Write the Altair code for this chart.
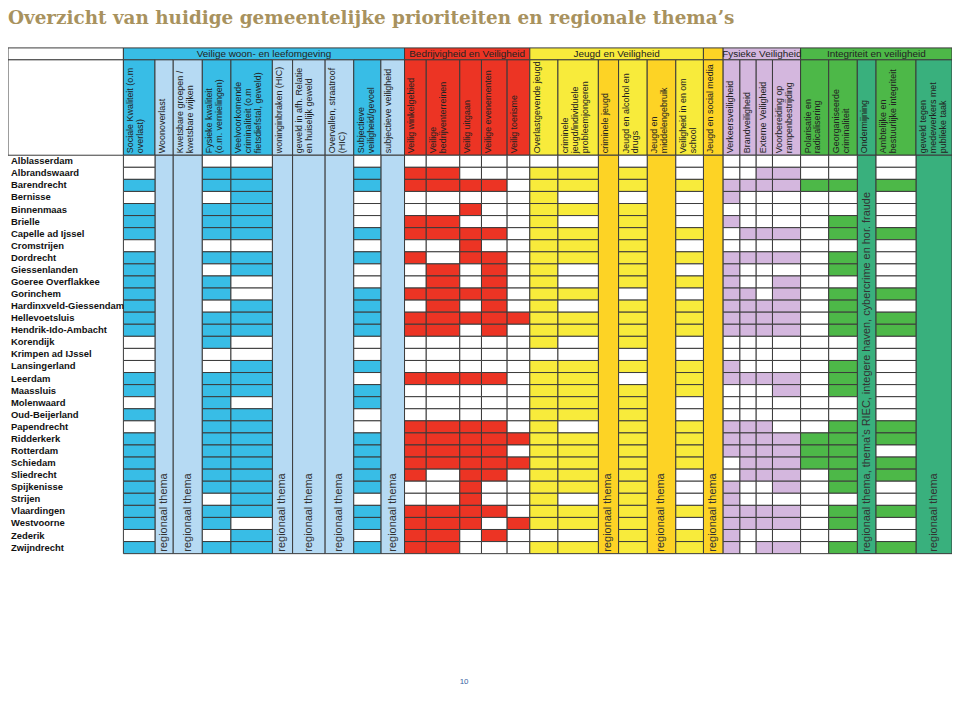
import altair as alt
import pandas as pd

# ---------------- data ----------------
TITLE = "Overzicht van huidige gemeentelijke prioriteiten en regionale thema’s"
PAGE_NUMBER = "10"

gemeenten = [
    "Alblasserdam", "Albrandswaard", "Barendrecht", "Bernisse", "Binnenmaas",
    "Brielle", "Capelle ad Ijssel", "Cromstrijen", "Dordrecht", "Giessenlanden",
    "Goeree Overflakkee", "Gorinchem", "Hardinxveld-Giessendam", "Hellevoetsluis",
    "Hendrik-Ido-Ambacht", "Korendijk", "Krimpen ad IJssel", "Lansingerland",
    "Leerdam", "Maassluis", "Molenwaard", "Oud-Beijerland", "Papendrecht",
    "Ridderkerk", "Rotterdam", "Schiedam", "Sliedrecht", "Spijkenisse", "Strijen",
    "Vlaardingen", "Westvoorne", "Zederik", "Zwijndrecht",
]

group_names = ["Veilige woon- en leefomgeving", "Bedrijvigheid en Veiligheid",
               "Jeugd en Veiligheid", "", "Fysieke Veiligheid",
               "Integriteit en veiligheid"]
group_first_col = [0, 10, 15, 21, 22, 26]
group_last_col = [9, 14, 20, 21, 25, 30]
group_kind = ["blue", "red", "yellow", "darkyellow", "purple", "green"]

column_labels = [
    "Sociale Kwaliteit (o.m\noverlast)",
    "Woonoverlast",
    "Kwetsbare groepen /\nkwetsbare wijken",
    "Fysieke kwaliteit\n(o.m. vernielingen)",
    "Veelvoorkomende\ncriminaliteit (o.m\nfietsdiefstal, geweld)",
    "woninginbraken (HIC)",
    "geweld in afh. Relatie\nen huiselijk geweld",
    "Overvallen, straatroof\n(HIC)",
    "Subjectieve\nveiligheid/gevoel",
    "subjectieve veiligheid",
    "Veilig winkelgebied",
    "Veilige\nbedrijventerreinen",
    "Veilig uitgaan",
    "Veilige evenementen",
    "Veilig toerisme",
    "Overlastgevende jeugd",
    "criminele\njeugd/individuele\nprobleemjongeren",
    "criminele jeugd",
    "Jeugd en alcohol en\ndrugs",
    "Jeugd en\nmiddelengebruik",
    "Veiligheid in en om\nschool",
    "Jeugd en social media",
    "Verkeersveiligheid",
    "Brandveiligheid",
    "Externe Veiligheid",
    "Voorbereiding op\nrampenbestrijding",
    "Polarisatie en\nradicalisering",
    "Georganiseerde\ncriminaliteit",
    "Ondermijning",
    "Ambtelijke en\nbestuurlijke integriteit",
    "geweld tegen\nmedewerkers met\npublieke taak",
]

# colour kind of every column (data columns: cell colour; regional: full column)
column_kind = [
    "blue", "lightblue", "lightblue", "blue", "blue", "lightblue", "lightblue",
    "lightblue", "blue", "lightblue",
    "red", "red", "red", "red", "red",
    "yellow", "yellow", "darkyellow", "yellow", "darkyellow", "yellow", "darkyellow",
    "purple", "purple", "purple", "purple",
    "green", "green", "teal", "green", "teal",
]

REG = "regionaal thema"
REG_RIEC = "regionaal thema, thema's RIEC, integere haven, cybercrime en hor. fraude"

# 1 = gemeentelijke prioriteit (coloured cell), 0 = empty
sociale_kwaliteit = [0,0,1,0,1,1,1,0,1,1, 1,1,1,1,1,0,0,0,1,1, 0,1,0,1,1,1,1,1,1,1, 1,0,1]
fysieke_kwaliteit = [0,1,1,0,1,1,1,0,1,0, 1,1,0,1,1,1,0,0,1,1, 1,1,1,1,1,1,1,1,0,1, 1,0,1]
veelvoorkomende_criminaliteit = [0,1,1,1,1,1,1,0,1,1, 0,0,1,1,1,0,0,1,1,1, 0,1,1,1,1,1,1,1,1,1, 0,1,1]
subjectieve_veiligheid = [0,1,1,0,0,0,1,0,1,0, 0,1,1,1,1,0,0,1,0,1, 1,0,0,1,1,1,1,1,0,1, 1,0,1]
veilig_winkelgebied = [0,1,1,0,0,1,1,0,1,0, 0,1,0,1,1,0,0,0,1,0, 0,0,1,1,1,1,1,0,0,1, 1,1,1]
veilige_bedrijventerreinen = [0,1,1,0,0,1,1,0,0,1, 1,1,1,1,1,0,0,0,1,0, 0,0,1,1,1,1,0,0,0,1, 1,1,1]
veilig_uitgaan = [0,0,1,0,1,0,1,1,1,0, 0,1,0,1,0,0,0,0,1,0, 0,0,1,1,1,1,1,1,1,1, 1,0,0]
veilige_evenementen = [0,0,1,0,0,0,1,0,1,1, 1,1,1,1,1,0,0,0,1,0, 0,0,1,1,1,1,1,0,0,1, 0,1,0]
veilig_toerisme = [0,0,0,0,0,0,0,0,0,0, 0,0,0,1,0,0,0,0,0,0, 0,0,0,1,0,1,0,0,0,0, 1,0,0]
overlastgevende_jeugd = [0,1,1,1,1,1,1,1,1,1, 1,1,1,1,1,1,0,1,1,1, 1,1,1,1,1,1,1,1,1,1, 1,0,1]
criminele_jeugd_individueel = [0,1,1,0,1,0,1,1,1,0, 0,1,0,1,1,0,0,1,1,1, 1,1,0,1,1,1,1,1,0,1, 1,0,1]
jeugd_alcohol_drugs = [0,1,1,0,1,1,1,1,1,1, 1,0,1,1,1,1,0,1,0,1, 1,1,1,1,1,1,1,1,1,1, 1,1,1]
veiligheid_school = [0,0,1,0,0,0,1,0,1,0, 1,0,1,1,1,0,0,1,1,1, 0,0,1,1,1,1,0,0,0,1, 0,1,1]
verkeersveiligheid = [0,0,1,1,0,1,0,0,1,1, 1,1,1,1,1,0,0,1,1,0, 0,0,1,1,1,0,0,1,1,1, 1,1,1]
brandveiligheid = [0,0,1,0,0,0,1,0,1,0, 0,1,1,1,1,0,0,0,1,0, 0,0,1,1,1,1,1,0,0,1, 1,0,0]
externe_veiligheid = [0,1,1,0,0,0,1,0,1,0, 0,0,1,1,1,0,0,0,1,0, 0,0,1,1,1,1,1,0,0,1, 1,0,1]
rampenbestrijding = [0,1,1,0,0,0,1,0,1,0, 1,1,1,1,1,0,0,0,1,1, 0,0,0,1,1,1,1,1,0,1, 1,0,1]
polarisatie = [0,0,1,0,0,0,0,0,0,0, 0,0,0,0,0,0,0,0,0,0, 0,0,0,1,1,1,0,0,0,0, 0,0,0]
georganiseerde_criminaliteit = [0,0,1,0,0,1,1,0,1,1, 0,1,1,1,1,0,0,1,1,1, 0,0,1,1,1,1,1,1,0,1, 1,0,1]
ambtelijke_integriteit = [0,0,1,0,0,0,1,0,0,0, 0,1,0,1,1,0,0,0,0,0, 0,0,1,1,0,1,1,0,0,1, 0,0,1]

column_values = [
    sociale_kwaliteit, REG, REG, fysieke_kwaliteit, veelvoorkomende_criminaliteit,
    REG, REG, REG, subjectieve_veiligheid, REG,
    veilig_winkelgebied, veilige_bedrijventerreinen, veilig_uitgaan,
    veilige_evenementen, veilig_toerisme,
    overlastgevende_jeugd, criminele_jeugd_individueel, REG, jeugd_alcohol_drugs,
    REG, veiligheid_school, REG,
    verkeersveiligheid, brandveiligheid, externe_veiligheid, rampenbestrijding,
    polarisatie, georganiseerde_criminaliteit, REG_RIEC, ambtelijke_integriteit, REG,
]

# ---------------- layout / style ----------------
label_col_width = 117
col_widths = [32, 18.5, 29.5, 29, 42, 20.5, 33, 29, 27.5, 24,
              22, 34, 22, 26, 23,
              28.5, 41, 20.5, 29, 29, 28, 20,
              17, 16.5, 16.5, 28.5,
              28.5, 29, 19, 40.5, 36.5]
GROUP_TOP, HEAD_TOP, ROWS_TOP, ROW_H = 46, 58, 154, 12.15

palette = {
    "blue": "#38BDE6", "lightblue": "#B6DAF3", "red": "#EC3424",
    "yellow": "#F8EB3B", "darkyellow": "#FDD325", "purple": "#D4B7DE",
    "green": "#4DB848", "teal": "#39B07D", "white": "#FFFFFF",
}
BORDER = "#3a3a3a"
W, H = 950, 680
xs = alt.Scale(domain=[0, 957], range=[0, W], nice=False, zero=False)
ys = alt.Scale(domain=[8, 8 + H], range=[0, H], nice=False, zero=False)

# ---------------- tables ----------------
x_edges = [label_col_width]
for w in col_widths:
    x_edges.append(x_edges[-1] + w)
rows_bottom = ROWS_TOP + ROW_H * len(gemeenten)

cells, full_cols, heads = [], [], []
for c, (lab, kind, vals) in enumerate(zip(column_labels, column_kind, column_values)):
    x0, x1 = x_edges[c], x_edges[c + 1]
    heads.append(dict(x0=x0, x1=x1, y0=HEAD_TOP, y1=ROWS_TOP, fill=palette[kind],
                      label=lab, tx=x0 + 3, ty=ROWS_TOP - 2))
    if isinstance(vals, str):
        full_cols.append(dict(x0=x0, x1=x1, y0=ROWS_TOP, y1=rows_bottom,
                              fill=palette[kind], label=vals,
                              tx=(x0 + x1) / 2, ty=rows_bottom - 2))
    else:
        for r, v in enumerate(vals):
            cells.append(dict(x0=x0, x1=x1, y0=ROWS_TOP + r * ROW_H,
                              y1=ROWS_TOP + (r + 1) * ROW_H,
                              fill=palette[kind] if v else palette["white"]))

groups = []
for name, a, b, kind in zip(group_names, group_first_col, group_last_col, group_kind):
    groups.append(dict(x0=x_edges[a], x1=x_edges[b + 1], y0=GROUP_TOP, y1=HEAD_TOP,
                       fill=palette[kind], label=name,
                       tx=(x_edges[a] + x_edges[b + 1]) / 2, ty=(GROUP_TOP + HEAD_TOP) / 2))
corner = [dict(x0=0, x1=label_col_width, y0=GROUP_TOP, y1=HEAD_TOP, fill="#FFFFFF"),
          dict(x0=0, x1=label_col_width, y0=HEAD_TOP, y1=ROWS_TOP, fill="#FFFFFF")]
row_labels = [dict(label=g, tx=3, ty=ROWS_TOP + (i + 0.5) * ROW_H)
              for i, g in enumerate(gemeenten)]

cells_df = pd.DataFrame(cells)
full_df = pd.DataFrame(full_cols)
heads_df = pd.DataFrame(heads)
groups_df = pd.DataFrame(groups)
corner_df = pd.DataFrame(corner)
rows_df = pd.DataFrame(row_labels)


def rects(df, sw=1):
    return alt.Chart(df).mark_rect(stroke=BORDER, strokeWidth=sw).encode(
        x=alt.X("x0:Q", scale=xs, axis=None), x2="x1:Q",
        y=alt.Y("y0:Q", scale=ys, axis=None), y2="y1:Q",
        fill=alt.Fill("fill:N", scale=None),
    )


def texts(df, **kw):
    return alt.Chart(df).mark_text(**kw).encode(
        x=alt.X("tx:Q", scale=xs, axis=None),
        y=alt.Y("ty:Q", scale=ys, axis=None),
        text="label:N",
    )


layers = [
    rects(corner_df),
    rects(groups_df),
    rects(heads_df),
    rects(full_df),
    rects(cells_df),
    texts(groups_df, font="Liberation Sans", fontSize=10, color="#222222",
          align="center", baseline="middle"),
    texts(heads_df, font="Liberation Sans", fontSize=9, color="#222222",
          angle=270, align="left", baseline="top", lineBreak="\n", lineHeight=10,
          limit=94, ellipsis=""),
    texts(full_df, font="Liberation Sans", fontSize=11, color="#333333",
          angle=270, align="left", baseline="middle"),
    texts(rows_df, font="Liberation Sans", fontSize=9.5, fontWeight="bold",
          color="#111111", align="left", baseline="middle"),
    alt.Chart(pd.DataFrame({"label": [TITLE]})).mark_text(
        font="DejaVu Serif", fontSize=18.5, fontWeight="bold", color="#A8925E",
        align="left", baseline="alphabetic",
    ).encode(x=alt.value(0), y=alt.value(14), text="label:N"),
    alt.Chart(pd.DataFrame({"label": [PAGE_NUMBER]})).mark_text(
        font="Liberation Sans", fontSize=8, color="#3A5F9F", align="center",
        baseline="middle",
    ).encode(x=alt.value(459), y=alt.value(676), text="label:N"),
]

chart = alt.layer(*layers).properties(
    width=W, height=H, padding=0, autosize="none",
).configure_view(stroke=None)

chart.save("out.html", embed_options={"renderer": "svg", "actions": False})
